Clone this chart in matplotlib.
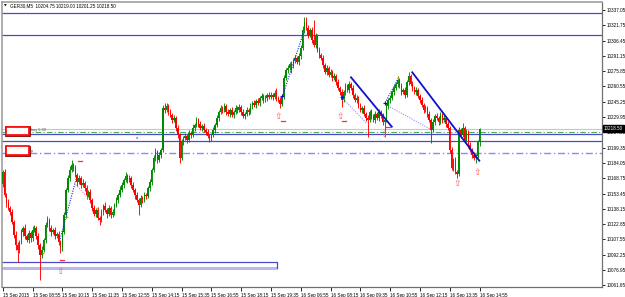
import matplotlib
matplotlib.use("Agg")
import matplotlib.pyplot as plt
import numpy as np

# GER30 M5 bars, 15 Sep 2015 .. 16 Sep 2015 14:55
opens = [10163, 10175, 10152, 10144, 10139, 10135, 10125, 10112, 10102, 10097, 10105, 10115, 10119, 10111, 10107, 10114,
         10109, 10117, 10119, 10111, 10102, 10092, 10097, 10107, 10122, 10127, 10119, 10115, 10117, 10111, 10113, 10105,
         10099, 10115, 10132, 10157, 10169, 10177, 10182, 10179, 10172, 10165, 10169, 10162, 10164, 10159, 10152, 10155,
         10147, 10139, 10133, 10137, 10129, 10127, 10135, 10141, 10137, 10133, 10139, 10132, 10135, 10142, 10147, 10152,
         10157, 10162, 10167, 10171, 10167, 10169, 10162, 10157, 10152, 10147, 10142, 10149, 10147, 10152, 10151, 10159,
         10165, 10177, 10189, 10195, 10187, 10192, 10197, 10239, 10237, 10241, 10235, 10232, 10227, 10229, 10219, 10212,
         10189, 10205, 10209, 10211, 10207, 10214, 10212, 10219, 10222, 10227, 10223, 10219, 10221, 10217, 10215, 10211,
         10209, 10212, 10217, 10222, 10229, 10235, 10239, 10237, 10241, 10235, 10233, 10237, 10232, 10235, 10239, 10237,
         10240, 10235, 10231, 10233, 10237, 10235, 10241, 10244, 10242, 10246, 10244, 10249, 10251, 10247, 10249, 10252,
         10250, 10252, 10250, 10254, 10249, 10247, 10243, 10251, 10269, 10277, 10279, 10283, 10281, 10287, 10289, 10285,
         10291, 10299, 10317, 10325, 10319, 10312, 10317, 10307, 10302, 10311, 10297, 10292, 10289, 10282, 10275, 10279,
         10272, 10275, 10269, 10271, 10265, 10259, 10255, 10247, 10255, 10261, 10257, 10263, 10259, 10252, 10247, 10249,
         10241, 10237, 10239, 10233, 10229, 10227, 10235, 10231, 10227, 10233, 10229, 10235, 10231, 10225, 10227, 10241,
         10247, 10249, 10255, 10259, 10263, 10267, 10261, 10255, 10257, 10252, 10265, 10271, 10263, 10259, 10255, 10257,
         10251, 10247, 10242, 10237, 10239, 10233, 10227, 10217, 10225, 10231, 10229, 10225, 10232, 10227, 10229, 10223,
         10219, 10197, 10179, 10187, 10175, 10173, 10217, 10212, 10219, 10207, 10215, 10202, 10197, 10192, 10189, 10191,
         10204.75]
highs = [10177, 10178, 10154, 10148, 10141, 10138, 10127, 10116, 10105, 10107, 10118, 10121, 10123, 10113, 10117, 10116,
         10121, 10122, 10121, 10114, 10104, 10101, 10109, 10125, 10131, 10129, 10122, 10119, 10120, 10115, 10116, 10107,
         10117, 10135, 10159, 10172, 10181, 10187, 10184, 10182, 10174, 10172, 10171, 10168, 10166, 10162, 10157, 10158,
         10149, 10142, 10139, 10140, 10131, 10138, 10143, 10145, 10139, 10142, 10141, 10138, 10144, 10150, 10154, 10161,
         10165, 10169, 10175, 10173, 10172, 10171, 10165, 10159, 10155, 10149, 10152, 10151, 10155, 10154, 10161, 10168,
         10179, 10192, 10199, 10197, 10195, 10199, 10242, 10244, 10244, 10243, 10238, 10234, 10232, 10231, 10222, 10214,
         10208, 10211, 10214, 10213, 10217, 10216, 10223, 10224, 10230, 10229, 10226, 10223, 10224, 10219, 10218, 10213,
         10214, 10220, 10224, 10232, 10237, 10242, 10241, 10244, 10243, 10238, 10239, 10240, 10237, 10242, 10241, 10243,
         10242, 10238, 10235, 10240, 10239, 10244, 10246, 10247, 10248, 10249, 10251, 10254, 10253, 10252, 10254, 10255,
         10255, 10254, 10257, 10259, 10251, 10250, 10253, 10272, 10279, 10282, 10285, 10286, 10289, 10292, 10291, 10294,
         10302, 10321, 10330, 10330, 10322, 10319, 10320, 10327, 10314, 10313, 10300, 10294, 10292, 10284, 10282, 10281,
         10278, 10277, 10274, 10273, 10268, 10261, 10258, 10257, 10264, 10263, 10266, 10265, 10262, 10254, 10252, 10251,
         10244, 10241, 10242, 10235, 10232, 10237, 10238, 10233, 10236, 10235, 10238, 10237, 10234, 10229, 10244, 10249,
         10252, 10257, 10262, 10265, 10271, 10269, 10264, 10259, 10260, 10267, 10275, 10273, 10266, 10261, 10260, 10259,
         10253, 10250, 10244, 10242, 10241, 10236, 10229, 10228, 10233, 10234, 10231, 10235, 10234, 10232, 10231, 10226,
         10221, 10200, 10189, 10190, 10177, 10220, 10219, 10224, 10221, 10218, 10217, 10205, 10199, 10195, 10193, 10207,
         10219]
lows = [10160, 10150, 10140, 10137, 10132, 10123, 10109, 10097, 10085, 10094, 10103, 10111, 10108, 10105, 10104, 10105,
        10106, 10115, 10108, 10098, 10067, 10089, 10095, 10104, 10120, 10116, 10111, 10113, 10108, 10109, 10102, 10094,
        10096, 10113, 10129, 10155, 10166, 10175, 10176, 10170, 10161, 10163, 10159, 10160, 10156, 10148, 10150, 10144,
        10136, 10131, 10130, 10127, 10122, 10125, 10132, 10135, 10129, 10131, 10129, 10130, 10132, 10140, 10144, 10150,
        10155, 10159, 10165, 10164, 10165, 10159, 10155, 10148, 10145, 10132, 10140, 10144, 10145, 10148, 10149, 10156,
        10162, 10175, 10186, 10184, 10185, 10189, 10195, 10234, 10235, 10232, 10230, 10224, 10225, 10216, 10209, 10184,
        10187, 10202, 10207, 10204, 10205, 10209, 10210, 10216, 10220, 10220, 10217, 10216, 10215, 10212, 10209, 10205,
        10206, 10210, 10214, 10220, 10226, 10233, 10234, 10235, 10232, 10231, 10230, 10230, 10229, 10233, 10234, 10235,
        10232, 10229, 10228, 10231, 10232, 10233, 10238, 10240, 10239, 10242, 10241, 10247, 10244, 10245, 10246, 10248,
        10248, 10247, 10248, 10246, 10245, 10239, 10241, 10248, 10267, 10274, 10277, 10274, 10279, 10284, 10283, 10282,
        10288, 10297, 10314, 10317, 10309, 10310, 10304, 10300, 10299, 10295, 10289, 10287, 10279, 10273, 10272, 10270,
        10270, 10266, 10267, 10262, 10257, 10252, 10240, 10245, 10252, 10255, 10254, 10257, 10249, 10245, 10244, 10239,
        10235, 10234, 10231, 10226, 10210, 10225, 10228, 10225, 10224, 10227, 10226, 10229, 10222, 10210, 10225, 10238,
        10244, 10247, 10252, 10257, 10260, 10259, 10252, 10253, 10249, 10250, 10262, 10261, 10256, 10253, 10252, 10249,
        10244, 10240, 10234, 10235, 10230, 10225, 10204, 10215, 10222, 10227, 10222, 10223, 10224, 10225, 10220, 10217,
        10194, 10177, 10176, 10173, 10169, 10171, 10209, 10210, 10204, 10205, 10199, 10195, 10189, 10187, 10184, 10189,
        10201.25]
closes = [10175, 10152, 10144, 10139, 10135, 10125, 10112, 10102, 10097, 10105, 10115, 10119, 10111, 10107, 10114, 10109,
          10117, 10119, 10111, 10102, 10092, 10097, 10107, 10122, 10127, 10119, 10115, 10117, 10111, 10113, 10105, 10099,
          10115, 10132, 10157, 10169, 10177, 10182, 10179, 10172, 10165, 10169, 10162, 10164, 10159, 10152, 10155, 10147,
          10139, 10133, 10137, 10129, 10127, 10135, 10141, 10137, 10133, 10139, 10132, 10135, 10142, 10147, 10152, 10157,
          10162, 10167, 10171, 10167, 10169, 10162, 10157, 10152, 10147, 10142, 10149, 10147, 10152, 10151, 10159, 10165,
          10177, 10189, 10195, 10187, 10192, 10197, 10239, 10237, 10241, 10235, 10232, 10227, 10229, 10219, 10212, 10189,
          10205, 10209, 10211, 10207, 10214, 10212, 10219, 10222, 10227, 10223, 10219, 10221, 10217, 10215, 10211, 10209,
          10212, 10217, 10222, 10229, 10235, 10239, 10237, 10241, 10235, 10233, 10237, 10232, 10235, 10239, 10237, 10240,
          10235, 10231, 10233, 10237, 10235, 10241, 10244, 10242, 10246, 10244, 10249, 10251, 10247, 10249, 10252, 10250,
          10252, 10250, 10254, 10249, 10247, 10243, 10251, 10269, 10277, 10279, 10283, 10281, 10287, 10289, 10285, 10291,
          10299, 10317, 10325, 10319, 10312, 10317, 10307, 10302, 10311, 10297, 10292, 10289, 10282, 10275, 10279, 10272,
          10275, 10269, 10271, 10265, 10259, 10255, 10247, 10255, 10261, 10257, 10263, 10259, 10252, 10247, 10249, 10241,
          10237, 10239, 10233, 10229, 10227, 10235, 10231, 10227, 10233, 10229, 10235, 10231, 10225, 10227, 10241, 10247,
          10249, 10255, 10259, 10263, 10267, 10261, 10255, 10257, 10252, 10265, 10271, 10263, 10259, 10255, 10257, 10251,
          10247, 10242, 10237, 10239, 10233, 10227, 10217, 10225, 10231, 10229, 10225, 10232, 10227, 10229, 10223, 10219,
          10197, 10179, 10187, 10175, 10173, 10217, 10212, 10219, 10207, 10215, 10202, 10197, 10192, 10189, 10191, 10204.75,
          10218.5]

time_labels = ["15 Sep 2015", "15 Sep 08:55", "15 Sep 10:15", "15 Sep 11:35", "15 Sep 12:55", "15 Sep 14:15",
               "15 Sep 15:35", "15 Sep 16:55", "15 Sep 18:15", "15 Sep 19:35", "16 Sep 06:55", "16 Sep 08:15",
               "16 Sep 09:35", "16 Sep 10:55", "16 Sep 12:15", "16 Sep 13:35", "16 Sep 14:55"]
price_ticks = [10061.65, 10076.95, 10092.25, 10107.55, 10122.85, 10138.15, 10153.45, 10168.75, 10184.05, 10199.35,
               10214.65, 10229.95, 10245.25, 10260.55, 10275.85, 10291.15, 10306.45, 10321.75, 10337.05]
bid = 10218.50

# objects on the chart (bar index, price)
solid_levels = [10333.7, 10312.0, 10212.7, 10205.7]
order_level = 10214.7
stop_level = 10194.3
trend_lines = [(187.0, 10269.7, 208.9, 10220.3), (219.9, 10274.7, 255.9, 10186.3)]
zigzag_dark = [(30.8, 10108.0, 39.4, 10168.0), (150.7, 10253.7, 161.4, 10313.7), (205.3, 10244.3, 212.4, 10268.7)]
zigzag_light = [(182.0, 10249.7, 195.4, 10223.7), (208.0, 10240.0, 229.4, 10218.0)]
zigzag_red = [(38.3, 10164.0, 46.5, 10148.0)]
up_arrows = [(30.8, 10075.3), (148.0, 10230.3), (181.1, 10230.3), (204.9, 10212.7), (243.8, 10163.7), (254.8, 10174.3)]
red_dashes = [(31.7, 10087.0), (41.7, 10186.3), (206.9, 10220.3), (150.7, 10226.0), (183.4, 10226.0)]
blue_crosses = [(149.7, 10251.3), (182.0, 10249.7), (205.3, 10244.3)]
orange_dots = [(21.6, 10094.3), (34.4, 10130.3), (50.5, 10139.0), (212.2, 10269.0)]
label_boxes = [(1.6, 10211.7, 12.5, 8.6), (1.6, 10192.0, 12.5, 8.7)]
zone = (-1.0, 10079.0, 147.3, 10085.0)

GREEN = "#008a00"
RED = "#ff0000"
BLUE = "#4a4ad0"
FONT = "Liberation Sans"

fig = plt.figure(figsize=(6.25, 2.97), dpi=100)
ax = fig.add_axes([2 / 625, 10 / 297, 600 / 625, 285 / 297])
ax.set_xlim(-0.376, 321.77)
ax.set_ylim(10060, 10345)

o = np.array(opens)
h = np.array(highs)
l = np.array(lows)
c = np.array(closes)
idx = np.arange(len(c))
up = c >= o
cols = np.where(up, GREEN, RED)

# horizontal objects
for lv in solid_levels:
    ax.axhline(lv, color=BLUE, lw=0.9, zorder=1)
ax.axhline(bid, color="#c8c8c8", lw=0.8, zorder=1)
ax.axhline(order_level, color="#4caf50", lw=0.8, ls=(0, (5, 2, 1, 2)), zorder=1)
ax.axhline(stop_level, color="#8888ff", lw=1.0, ls=(0, (5, 2, 1, 2)), zorder=1)

# zone rectangle bottom left
x0, ylo, x1, yhi = zone
ax.plot([x0, x1], [ylo, ylo], color="#b8b8f0", lw=2.2, solid_capstyle="butt", zorder=1)
ax.plot([x0, x1, x1], [yhi, yhi, ylo], color=BLUE, lw=0.9, zorder=2)

# candles
ax.vlines(idx, l, h, colors=cols, lw=0.65, zorder=3)
ax.bar(idx, np.maximum(np.abs(c - o), 0.6), bottom=np.minimum(o, c), width=0.8,
       color=cols, linewidth=0, zorder=4)

# trend lines and zigzags
for b0, p0, b1, p1 in trend_lines:
    ax.plot([b0, b1], [p0, p1], color="#1010d0", lw=1.3, zorder=5)
for b0, p0, b1, p1 in zigzag_dark:
    ax.plot([b0, b1], [p0, p1], color="#2020e0", lw=0.8, ls=(0, (1, 1.2)), zorder=5)
for b0, p0, b1, p1 in zigzag_light:
    ax.plot([b0, b1], [p0, p1], color="#9090f0", lw=0.8, ls=(0, (1, 1.2)), zorder=5)
for b0, p0, b1, p1 in zigzag_red:
    ax.plot([b0, b1], [p0, p1], color="#f08080", lw=0.8, ls=(0, (1, 1.2)), zorder=5)

for b, p in up_arrows:
    ax.text(b, p, "\u21e7", color="#ff5a5a", fontsize=6.5, ha="center", va="center",
            family="DejaVu Sans", zorder=6)
for b, p in red_dashes:
    ax.plot([b - 1.1, b + 1.1], [p, p], color="#ff3030", lw=0.9, zorder=6)
for b, p in blue_crosses:
    ax.plot(b, p, marker="+", color="#1010d0", ms=2.5, mew=0.8, zorder=6)
for b, p in orange_dots:
    ax.plot(b, p, marker="s", color="#f0a020", ms=1.2, mew=0, zorder=6)

# label boxes on left
for b, p, w, hgt in label_boxes:
    ax.add_patch(plt.Rectangle((b + 0.4, p - 0.8), w, hgt, facecolor="none",
                               edgecolor="#8b0000", lw=1.3, zorder=7))
    ax.add_patch(plt.Rectangle((b, p), w, hgt, facecolor="white",
                               edgecolor="#ff1010", lw=1.3, zorder=8))
ax.text(15.2, 10217.5, "buy 5.00", fontsize=2.8, color="#505050", va="center", family=FONT, zorder=8)
ax.text(15.2, 10196.0, "p", fontsize=2.8, color="#505050", va="center", family=FONT, zorder=8)
ax.text(71.5, 10209.0, "a", fontsize=2.8, color="#3030d0", va="center", family=FONT, zorder=8)

# axes styling
for side in ["left", "top"]:
    ax.spines[side].set_color("#a0a0a0")
    ax.spines[side].set_linewidth(1.2)
for side in ["right", "bottom"]:
    ax.spines[side].set_color("#707070")
    ax.spines[side].set_linewidth(0.9)

ax.yaxis.tick_right()
ax.set_yticks(price_ticks)
ax.set_yticklabels(["%.2f" % v for v in price_ticks], family=FONT)
ax.tick_params(axis="y", direction="out", length=2, width=0.6, pad=1.5, labelsize=3.3, colors="black")

ax.set_xticks(idx[::16])
ax.set_xticklabels(time_labels, family=FONT, ha="left")
ax.tick_params(axis="x", direction="out", length=3, width=0.6, pad=1.5, labelsize=3.3, colors="black")

ax.annotate("%.2f" % bid, xy=(1.0, bid), xycoords=("axes fraction", "data"),
            xytext=(1.5, 0), textcoords="offset points", fontsize=3.3, family=FONT,
            color="white", va="center", ha="left",
            bbox=dict(boxstyle="square,pad=0.15", facecolor="black", edgecolor="black"))

fig.text(10 / 625, 1 - 5.5 / 297, "GER30,M5  10204.75 10219.00 10201.25 10218.50",
         fontsize=3.3, family=FONT, va="center", ha="left")
fig.text(5 / 625, 1 - 5.5 / 297, "\u25bc", fontsize=2.5, family="DejaVu Sans", va="center", ha="center")

fig.savefig("out.png", dpi=100, facecolor="white")
